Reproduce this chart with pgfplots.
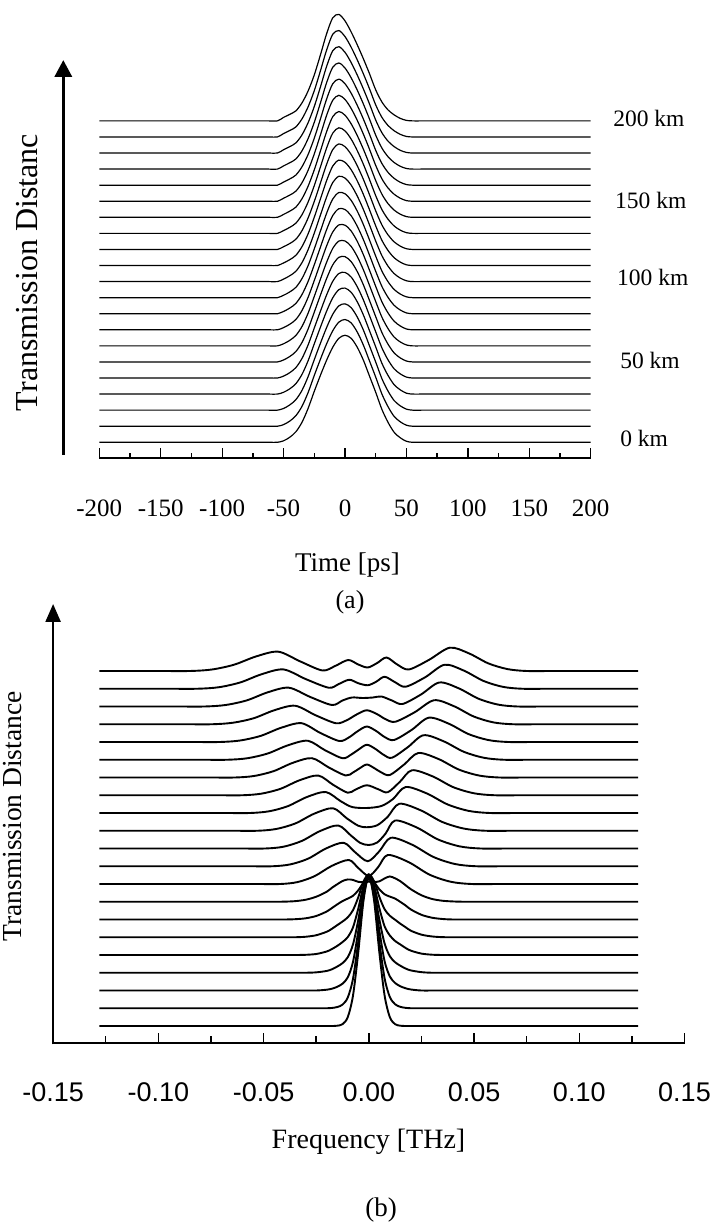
\documentclass[border=0pt]{standalone}
\usepackage{fontspec}
\setmainfont{Liberation Serif}
\newfontfamily\labsans{Liberation Sans}
\usepackage{pgfplots}
\pgfplotsset{compat=1.18}
\usepackage{pgfplotstable}
\usetikzlibrary{arrows.meta}

% panel (a): pulse amplitude (px above each baseline) at time t (ps), one column per distance step of 10 km
\pgfplotstableread{
t a0 a1 a2 a3 a4 a5 a6 a7 a8 a9 a10 a11 a12 a13 a14 a15 a16 a17 a18 a19 a20
-200 0 0 0 0 0 0 0 0 0 0 0 0 0 0 0 0 0 0 0 0 0
-140 0 0 0 0 0 0 0 0 0 0 0 0 0 0 0 0 0 0 0 0 0
-100 0 0 0 0 0 0 0 0 0 0 0 0 0 0 0 0 0 0 0 0 0
-75 0 0 0 0 0 0 0 0 0 0 0 0 0 0 0 0 0 0 0 0 0
-62 0 0 0 0 0 0 0 0 0 0 0 0 0 0 0 0 0 0 0 0 0
-55 0 0 0 0 0 0 0 0 0 0 0 0 0 0 0 0 0 0 0 0 0
-50 1.5 1.6 1.7 1.8 1.9 2.0 2.1 2.2 2.3 2.4 2.5 2.6 2.7 2.8 2.9 3.0 3.1 3.2 3.3 3.4 3.5
-45 5 5.1 5.2 5.2 5.3 5.4 5.5 5.5 5.6 5.7 5.8 5.8 5.9 6.0 6.1 6.1 6.2 6.3 6.4 6.4 6.5
-40 10.5 10.5 10.5 10.4 10.4 10.4 10.4 10.3 10.3 10.3 10.3 10.2 10.2 10.2 10.2 10.1 10.1 10.1 10.1 10.0 10.0
-35 20 19.9 19.8 19.7 19.6 19.5 19.4 19.3 19.2 19.1 19 18.9 18.8 18.7 18.6 18.5 18.4 18.3 18.2 18.1 18
-30 34 33.8 33.6 33.4 33.2 33 32.8 32.6 32.4 32.2 32 31.8 31.6 31.4 31.2 31 30.8 30.6 30.4 30.2 30
-25 51 50.8 50.5 50.3 50 49.8 49.5 49.3 49 48.8 48.5 48.3 48 47.8 47.5 47.3 47 46.8 46.5 46.3 46
-20 67 67 66.9 66.9 66.8 66.8 66.7 66.7 66.6 66.6 66.5 66.5 66.4 66.4 66.3 66.3 66.2 66.2 66.1 66.1 66
-15 82 82.3 82.5 82.8 83 83.3 83.5 83.8 84 84.3 84.5 84.8 85 85.3 85.5 85.8 86 86.3 86.5 86.8 87
-10 95 95.4 95.8 96.2 96.6 97 97.4 97.8 98.2 98.6 99 99.4 99.8 100.2 100.6 101 101.4 101.8 102.2 102.6 103
-5 104 104.1 104.3 104.4 104.5 104.6 104.8 104.9 105 105.1 105.3 105.4 105.5 105.6 105.8 105.9 106 106.1 106.3 106.4 106.5
0 107 106.7 106.3 106 105.6 105.3 104.9 104.6 104.2 103.9 103.5 103.2 102.8 102.5 102.1 101.8 101.4 101.1 100.7 100.4 100
5 104 103.3 102.5 101.8 101 100.3 99.5 98.8 98 97.3 96.5 95.8 95 94.3 93.5 92.8 92 91.3 90.5 89.8 89
10 95 94.1 93.1 92.2 91.2 90.3 89.3 88.4 87.4 86.5 85.5 84.6 83.6 82.7 81.7 80.8 79.8 78.9 77.9 77 76
15 82 81 80 79 78 77 76 75 74 73 72 71 70 69 68 67 66 65 64 63 62
20 66 65.1 64.1 63.2 62.2 61.3 60.3 59.4 58.4 57.5 56.5 55.6 54.6 53.7 52.7 51.8 50.8 49.9 48.9 48 47
25 50 49.1 48.1 47.2 46.2 45.3 44.3 43.4 42.4 41.5 40.5 39.6 38.6 37.7 36.7 35.8 34.8 33.9 32.9 32 31
30 33 32.3 31.6 30.9 30.2 29.5 28.8 28.1 27.4 26.7 26 25.3 24.6 23.9 23.2 22.5 21.8 21.1 20.4 19.7 19
35 20 19.6 19.1 18.7 18.2 17.8 17.3 16.9 16.4 16 15.5 15.1 14.6 14.2 13.7 13.3 12.8 12.4 11.9 11.5 11
40 10 9.8 9.6 9.4 9.2 9 8.8 8.6 8.4 8.2 8 7.8 7.6 7.4 7.2 7 6.8 6.6 6.4 6.2 6
45 4.5 4.4 4.3 4.2 4.1 4.0 3.9 3.8 3.7 3.6 3.5 3.4 3.3 3.2 3.1 3.0 2.9 2.8 2.7 2.6 2.5
50 1 1 1 0.9 0.9 0.9 0.9 0.8 0.8 0.8 0.8 0.7 0.7 0.7 0.7 0.6 0.6 0.6 0.6 0.5 0.5
55 0 0 0 0 0 0 0 0 0 0 0 0 0 0 0 0 0 0 0 0 0
62 0 0 0 0 0 0 0 0 0 0 0 0 0 0 0 0 0 0 0 0 0
75 0 0 0 0 0 0 0 0 0 0 0 0 0 0 0 0 0 0 0 0 0
100 0 0 0 0 0 0 0 0 0 0 0 0 0 0 0 0 0 0 0 0 0
140 0 0 0 0 0 0 0 0 0 0 0 0 0 0 0 0 0 0 0 0 0
200 0 0 0 0 0 0 0 0 0 0 0 0 0 0 0 0 0 0 0 0 0
}\tableA

\pgfplotsset{
  ca/.style={black, line width=1.2pt, smooth, no markers},
  cb/.style={black, line width=1.9pt, smooth, tension=0.5, no markers},
}

\begin{document}
\begin{tikzpicture}[x=1pt,y=1pt]
\useasboundingbox (0,0) rectangle (720,1231);

% ---------------- panel (a) ----------------
\begin{axis}[
  at={(99.3pt,772.7pt)}, anchor=south west, scale only axis,
  width=491.4pt, height=456pt,
  xmin=-200, xmax=200, ymin=-16, ymax=440,
  axis y line=none, axis x line=bottom,
  x axis line style={-, line width=1.8pt},
  xtick={-200,-150,-100,-50,0,50,100,150,200},
  xticklabels={-200,-150,-100,-50,0,50,100,150,200},
  minor xtick={-175,-125,-75,-25,25,75,125,175},
  tick align=inside, major tick length=10.5pt, minor tick length=5.5pt,
  tick style={black, line width=1.3pt},
  xticklabel style={anchor=center, yshift=-49.7pt, font=\fontsize{25}{30}\selectfont},
  clip=false,
]
\pgfplotsinvokeforeach{0,...,20}{
  \addplot[ca] table[x=t, y expr=\thisrow{a#1}+16.07*#1] {\tableA};
}
\node[anchor=west, inner sep=0pt, font=\fontsize{23.5}{28}\selectfont] at (axis cs:218.2,324.3) {200 km};
\node[anchor=west, inner sep=0pt, font=\fontsize{23.5}{28}\selectfont] at (axis cs:219.8,242.3) {150 km};
\node[anchor=west, inner sep=0pt, font=\fontsize{23.5}{28}\selectfont] at (axis cs:221.4,164.6) {100 km};
\node[anchor=west, inner sep=0pt, font=\fontsize{23.5}{28}\selectfont] at (axis cs:223.9,82.3) {50 km};
\node[anchor=west, inner sep=0pt, font=\fontsize{23.5}{28}\selectfont] at (axis cs:223.9,4.3) {0 km};
\end{axis}

% ---------------- panel (b) ----------------
\begin{axis}[
  at={(53.1pt,187.7pt)}, anchor=south west, scale only axis,
  width=631.4pt, height=442.3pt,
  xmin=-0.15, xmax=0.15, ymin=-17.3, ymax=425,
  axis y line=none, axis x line=bottom,
  x axis line style={-, line width=2.2pt},
  xtick={-0.15,-0.10,-0.05,0,0.05,0.10,0.15},
  xticklabels={-0.15,-0.10,-0.05,0.00,0.05,0.10,0.15},
  minor xtick={-0.125,-0.075,-0.025,0.025,0.075,0.125},
  tick align=inside, major tick length=10pt, minor tick length=7.5pt,
  tick style={black, line width=1.5pt},
  xticklabel style={anchor=center, yshift=-48.7pt, font=\labsans\fontsize{27}{32}\selectfont},
  clip=false,
]
% 0 km
\addplot[cb] table[row sep=\\, y expr=\thisrow{a}+0]{f a\\ -0.128 0\\ -0.08625 0\\ -0.04625 0\\ -0.02875 0\\ -0.02125 0\\ -0.0175 0\\ -0.015 0.3\\ -0.0125 1.8\\ -0.01 8.8\\ -0.0075 30.5\\ -0.005 73.8\\ -0.0025 125.7\\ 0 150\\ 0.0025 125.7\\ 0.005 73.8\\ 0.0075 30.5\\ 0.01 8.8\\ 0.0125 1.8\\ 0.015 0.3\\ 0.0175 0\\ 0.02125 0\\ 0.02875 0\\ 0.04625 0\\ 0.08625 0\\ 0.128 0\\};
% 10 km
\addplot[cb] table[row sep=\\, y expr=\thisrow{a}+17.75]{f a\\ -0.128 0\\ -0.08875 0\\ -0.04875 0\\ -0.03125 0\\ -0.02375 0\\ -0.02 0\\ -0.0175 0.3\\ -0.015 1.2\\ -0.0125 3.6\\ -0.01 10.7\\ -0.0075 29.6\\ -0.005 66.5\\ -0.0025 111.3\\ 0 132\\ 0.0025 111.3\\ 0.005 66.7\\ 0.0075 30\\ 0.01 11.2\\ 0.0125 4\\ 0.015 1.4\\ 0.0175 0.4\\ 0.02 0\\ 0.02375 0\\ 0.03125 0\\ 0.04875 0\\ 0.08875 0\\ 0.128 0\\};
% 20 km
\addplot[cb] table[row sep=\\, y expr=\thisrow{a}+35.5]{f a\\ -0.128 0\\ -0.0825 0\\ -0.0475 0\\ -0.0325 0\\ -0.025 0\\ -0.02 0.8\\ -0.0175 1.8\\ -0.015 3.7\\ -0.0125 6.8\\ -0.01 13.1\\ -0.0075 28.7\\ -0.005 59.6\\ -0.0025 96.9\\ 0 114\\ 0.0025 97\\ 0.005 60\\ 0.0075 29.3\\ 0.01 14\\ 0.0125 7.5\\ 0.015 4.2\\ 0.0175 2.2\\ 0.02 1\\ 0.025 0\\ 0.0325 0\\ 0.0475 0\\ 0.0825 0\\ 0.128 0\\};
% 30 km
\addplot[cb] table[row sep=\\, y expr=\thisrow{a}+53.25]{f a\\ -0.128 0\\ -0.0875 0\\ -0.0525 0\\ -0.0375 0\\ -0.03 0\\ -0.025 0.4\\ -0.02 1.8\\ -0.0175 3.5\\ -0.015 6.2\\ -0.0125 9.6\\ -0.01 15.5\\ -0.0075 28.4\\ -0.005 52.8\\ -0.0025 82.4\\ 0 96\\ 0.0025 82.6\\ 0.005 53.3\\ 0.0075 29.3\\ 0.01 16.5\\ 0.0125 10.5\\ 0.015 7\\ 0.0175 4.2\\ 0.02 2.3\\ 0.025 0.6\\ 0.03 0\\ 0.0375 0\\ 0.0525 0\\ 0.0875 0\\ 0.128 0\\};
% 40 km
\addplot[cb] table[row sep=\\, y expr=\thisrow{a}+71]{f a\\ -0.128 0\\ -0.0925 0\\ -0.0575 0\\ -0.0425 0\\ -0.035 0\\ -0.03 0.2\\ -0.025 1\\ -0.02 3.5\\ -0.0175 6\\ -0.015 9.1\\ -0.0125 12.9\\ -0.01 17.9\\ -0.0075 27.7\\ -0.005 46.4\\ -0.0025 68.9\\ 0 79\\ 0.0025 69.2\\ 0.005 47\\ 0.0075 28.7\\ 0.01 19.5\\ 0.0125 14\\ 0.015 10.5\\ 0.0175 7\\ 0.02 4.3\\ 0.025 1.4\\ 0.03 0.3\\ 0.035 0\\ 0.0425 0\\ 0.0575 0\\ 0.0925 0\\ 0.128 0\\};
% 50 km
\addplot[cb] table[row sep=\\, y expr=\thisrow{a}+88.75]{f a\\ -0.128 0\\ -0.0925 0\\ -0.0575 0\\ -0.0425 0\\ -0.035 0\\ -0.03 0.5\\ -0.025 2\\ -0.02 5.5\\ -0.0175 8.5\\ -0.015 12.1\\ -0.0125 15.7\\ -0.01 19.9\\ -0.0075 27.1\\ -0.005 40\\ -0.0025 55.8\\ 0 63\\ 0.0025 56\\ 0.005 40.5\\ 0.0075 28\\ 0.01 21.5\\ 0.0125 17.5\\ 0.015 13.5\\ 0.0175 10\\ 0.02 6.5\\ 0.025 2.6\\ 0.03 0.8\\ 0.035 0.1\\ 0.04 0\\ 0.0475 0\\ 0.0625 0\\ 0.0975 0\\ 0.128 0\\};
% 60 km
\addplot[cb] table[row sep=\\, y expr=\thisrow{a}+106.5]{f a\\ -0.128 0\\ -0.0975 0\\ -0.0625 0\\ -0.0475 0\\ -0.04 0\\ -0.035 0.3\\ -0.03 1.2\\ -0.025 3.5\\ -0.02 8\\ -0.0175 11.5\\ -0.015 15.1\\ -0.0125 18.4\\ -0.01 20.9\\ -0.0075 23.7\\ -0.005 29.2\\ -0.0025 36.7\\ 0 40\\ 0.0025 37.2\\ 0.005 30.2\\ 0.0075 25.2\\ 0.01 22.9\\ 0.0125 20.9\\ 0.015 17.6\\ 0.0175 14\\ 0.02 10\\ 0.025 4.7\\ 0.03 1.8\\ 0.035 0.5\\ 0.04 0\\ 0.0475 0\\ 0.0625 0\\ 0.0975 0\\ 0.128 0\\};
% 70 km
\addplot[cb] table[row sep=\\, y expr=\thisrow{a}+124.25]{f a\\ -0.128 0\\ -0.1025 0\\ -0.0675 0\\ -0.0525 0\\ -0.045 0\\ -0.04 0.1\\ -0.035 0.6\\ -0.03 2\\ -0.025 5\\ -0.02 10\\ -0.0175 14\\ -0.015 17.5\\ -0.0125 20.7\\ -0.01 22.3\\ -0.0075 21.8\\ -0.005 19.9\\ -0.0025 19.7\\ 0 20\\ 0.0025 19.7\\ 0.005 20.4\\ 0.0075 23.3\\ 0.01 25.3\\ 0.0125 23.4\\ 0.015 20.5\\ 0.0175 16.5\\ 0.02 12.5\\ 0.025 6.5\\ 0.03 2.8\\ 0.035 1\\ 0.04 0.3\\ 0.045 0\\ 0.0525 0\\ 0.0675 0\\ 0.1025 0\\ 0.128 0\\};
% 80 km
\addplot[cb] table[row sep=\\, y expr=\thisrow{a}+142]{f a\\ -0.128 0\\ -0.0785 0\\ -0.0542 0\\ -0.042 0\\ -0.0339 1.9\\ -0.0258 7.8\\ -0.0176 18.1\\ -0.0095 24\\ -0.005 16\\ 0 8\\ 0.0045 17\\ 0.009 29\\ 0.0189 21.9\\ 0.0288 9.4\\ 0.0388 2.3\\ 0.0487 0\\ 0.0636 0\\ 0.0933 0\\ 0.128 0\\};
% 90 km
\addplot[cb] table[row sep=\\, y expr=\thisrow{a}+159.75]{f a\\ -0.128 0\\ -0.0834 0\\ -0.0582 0\\ -0.0456 0\\ -0.0372 1.9\\ -0.0288 7.6\\ -0.0204 17.7\\ -0.012 23.5\\ -0.0065 14\\ -0.0005 5\\ 0.005 15\\ 0.0105 28.5\\ 0.0206 21.5\\ 0.0307 9.3\\ 0.0408 2.3\\ 0.0509 0\\ 0.066 0\\ 0.0964 0\\ 0.128 0\\};
% 100 km
\addplot[cb] table[row sep=\\, y expr=\thisrow{a}+177.5]{f a\\ -0.128 0\\ -0.0884 0\\ -0.0623 0\\ -0.0492 0\\ -0.0405 1.8\\ -0.0319 7.5\\ -0.0232 17.4\\ -0.0145 23\\ -0.0085 13\\ -0.004 5.5\\ 0 3.5\\ 0.004 6\\ 0.008 15\\ 0.0125 28\\ 0.0227 21.1\\ 0.0328 9.1\\ 0.043 2.2\\ 0.0531 0\\ 0.0683 0\\ 0.0986 0\\ 0.128 0\\};
% 110 km
\addplot[cb] table[row sep=\\, y expr=\thisrow{a}+195.25]{f a\\ -0.128 0\\ -0.0929 0\\ -0.0662 0\\ -0.0528 0\\ -0.0439 1.8\\ -0.0349 7.3\\ -0.026 17\\ -0.017 22.5\\ -0.0105 12.5\\ -0.005 5\\ -0.001 3.5\\ 0.004 5.5\\ 0.009 14\\ 0.0145 27\\ 0.0247 20.4\\ 0.0349 8.8\\ 0.0451 2.2\\ 0.0553 0\\ 0.0706 0\\ 0.1012 0\\ 0.128 0\\};
% 120 km
\addplot[cb] table[row sep=\\, y expr=\thisrow{a}+213]{f a\\ -0.128 0\\ -0.0969 0\\ -0.0699 0\\ -0.0564 0\\ -0.0474 1.7\\ -0.0385 6.8\\ -0.0295 15.9\\ -0.0205 21\\ -0.0135 12\\ -0.008 6\\ -0.001 5\\ 0.006 7\\ 0.0115 14\\ 0.0175 26\\ 0.0275 19.6\\ 0.0375 8.5\\ 0.0475 2.1\\ 0.0575 0\\ 0.0725 0\\ 0.1025 0\\ 0.128 0\\};
% 130 km
\addplot[cb] table[row sep=\\, y expr=\thisrow{a}+230.75]{f a\\ -0.128 0\\ -0.1005 0\\ -0.0735 0\\ -0.06 0\\ -0.051 1.6\\ -0.042 6.4\\ -0.033 14.9\\ -0.024 19.7\\ -0.017 10.5\\ -0.010 2.5\\ -0.0065 5.5\\ -0.001 10\\ 0.0045 6\\ 0.009 3\\ 0.0148 13.5\\ 0.0205 25\\ 0.0303 18.9\\ 0.0401 8.1\\ 0.0499 2\\ 0.0597 0\\ 0.0744 0\\ 0.1038 0\\ 0.128 0\\};
% 140 km
\addplot[cb] table[row sep=\\, y expr=\thisrow{a}+248.5]{f a\\ -0.128 0\\ -0.1046 0\\ -0.0773 0\\ -0.0636 0\\ -0.0545 1.5\\ -0.0453 6.3\\ -0.0362 14.6\\ -0.027 19.3\\ -0.019 10\\ -0.011 2\\ -0.0075 5\\ -0.0045 9\\ -0.001 13\\ 0.0025 9.5\\ 0.006 5\\ 0.010 2.5\\ 0.0168 13\\ 0.0235 24.5\\ 0.0331 18.5\\ 0.0427 8\\ 0.0523 2\\ 0.0619 0\\ 0.0763 0\\ 0.1051 0\\ 0.128 0\\};
% 150 km
\addplot[cb] table[row sep=\\, y expr=\thisrow{a}+266.25]{f a\\ -0.128 0\\ -0.11 0\\ -0.0815 0\\ -0.0672 0\\ -0.0577 1.5\\ -0.0481 6.2\\ -0.0386 14.3\\ -0.029 19\\ -0.0208 9.5\\ -0.0125 1.5\\ -0.0085 5\\ -0.005 10\\ -0.001 15\\ 0.003 11\\ 0.007 5\\ 0.011 2\\ 0.0185 12.5\\ 0.026 24.5\\ 0.0355 18.5\\ 0.0451 8\\ 0.0546 2\\ 0.0641 0\\ 0.0784 0\\ 0.1069 0\\ 0.128 0\\};
% 160 km
\addplot[cb] table[row sep=\\, y expr=\thisrow{a}+284]{f a\\ -0.128 0\\ -0.1145 0\\ -0.0854 0\\ -0.0708 0\\ -0.0611 1.5\\ -0.0514 6.1\\ -0.0417 14.2\\ -0.032 18.8\\ -0.023 9\\ -0.014 1\\ -0.0095 4.5\\ -0.0055 10.5\\ -0.001 15.5\\ 0.0035 11\\ 0.0075 5\\ 0.012 2\\ 0.0203 12\\ 0.0285 24.3\\ 0.038 18.3\\ 0.0474 7.9\\ 0.0569 1.9\\ 0.0663 0\\ 0.0804 0\\ 0.1086 0\\ 0.128 0\\};
% 170 km
\addplot[cb] table[row sep=\\, y expr=\thisrow{a}+301.75]{f a\\ -0.128 0\\ -0.1185 0\\ -0.0891 0\\ -0.0744 0\\ -0.0646 1.5\\ -0.0547 6\\ -0.0449 14\\ -0.035 18.5\\ -0.0253 9\\ -0.0156 1\\ -0.0105 4\\ -0.006 9.5\\ -0.001 14\\ 0.004 10\\ 0.008 5\\ 0.0126 2.5\\ 0.0218 12\\ 0.031 24\\ 0.0404 18.1\\ 0.0498 7.8\\ 0.0591 1.9\\ 0.0685 0\\ 0.0826 0\\ 0.1108 0\\ 0.128 0\\};
% 180 km
\addplot[cb] table[row sep=\\, y expr=\thisrow{a}+319.5]{f a\\ -0.128 0\\ -0.123 0\\ -0.093 0\\ -0.078 0\\ -0.068 1.5\\ -0.058 6.1\\ -0.048 14.2\\ -0.038 18.8\\ -0.0278 9.5\\ -0.0175 1.5\\ -0.0125 6\\ -0.008 9\\ -0.003 8.5\\ 0.002 9\\ 0.006 10\\ 0.011 6\\ 0.016 2.5\\ 0.0248 12\\ 0.0335 24\\ 0.0428 18.1\\ 0.0521 7.8\\ 0.0614 1.9\\ 0.0707 0\\ 0.0847 0\\ 0.1126 0\\ 0.128 0\\};
% 190 km
\addplot[cb] table[row sep=\\, y expr=\thisrow{a}+337.25]{f a\\ -0.128 0\\ -0.0971 0\\ -0.0816 0\\ -0.0713 1.5\\ -0.0611 6.3\\ -0.0508 14.6\\ -0.0405 19.3\\ -0.0298 9.5\\ -0.019 1\\ -0.0145 4.5\\ -0.0093 9\\ -0.005 5.5\\ -0.0005 3.5\\ 0.0035 7\\ 0.0075 12\\ 0.0125 6.5\\ 0.0175 2\\ 0.0268 11.5\\ 0.036 24\\ 0.0452 18.1\\ 0.0545 7.8\\ 0.0637 1.9\\ 0.0729 0\\ 0.0867 0\\ 0.1143 0\\ 0.128 0\\};
% 200 km
\addplot[cb] table[row sep=\\, y expr=\thisrow{a}+355]{f a\\ -0.128 0\\ -0.1008 0\\ -0.085 0\\ -0.0745 1.5\\ -0.064 6.3\\ -0.0535 14.6\\ -0.043 19.3\\ -0.0325 9.5\\ -0.022 0.5\\ -0.016 5\\ -0.0098 11\\ -0.005 6.5\\ -0.0005 3.5\\ 0.004 8\\ 0.0084 13.5\\ 0.0135 6.5\\ 0.019 1.5\\ 0.0285 11\\ 0.0385 23.3\\ 0.0476 17.6\\ 0.0568 7.6\\ 0.0659 1.9\\ 0.075 0\\ 0.0887 0\\ 0.116 0\\ 0.128 0\\};
\end{axis}

% arrows (distance axes)
\draw[line width=3.5pt, -{Triangle[length=17pt, width=17pt]}] (63.3,776) -- (63.3,1171);
\draw[line width=2.4pt, -{Triangle[length=18pt, width=15pt]}] (53.1,186.6) -- (53.1,627);

% texts
\node[rotate=90, font=\fontsize{32}{38}\selectfont] at (27,958.5) {Transmission Distanc};
\node[font=\fontsize{27}{32}\selectfont] at (347.5,666) {Time [ps]};
\node[font=\fontsize{26}{31}\selectfont] at (350,629) {(a)};
\node[rotate=90, font=\fontsize{27.5}{33}\selectfont] at (13,414.5) {Transmission Distance};
\node[font=\fontsize{28}{33}\selectfont] at (368.5,89.3) {Frequency [THz]};
\node[font=\fontsize{27}{32}\selectfont] at (381,21) {(b)};
\end{tikzpicture}
\end{document}
